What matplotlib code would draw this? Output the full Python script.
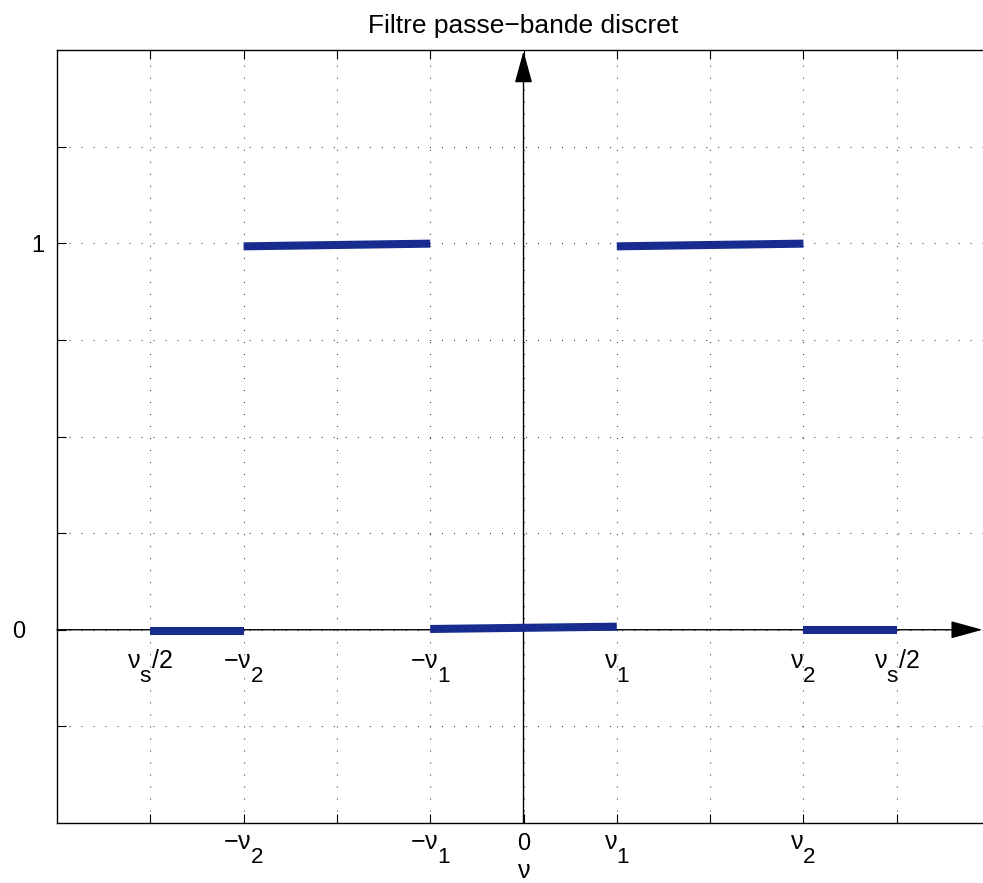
import matplotlib
matplotlib.use('Agg')
import matplotlib.pyplot as plt
import matplotlib.transforms as mtransforms
import matplotlib._mathtext as mathtext_internals
import numpy as np

plt.rcParams['font.family'] = ['Liberation Sans', 'DejaVu Sans']
plt.rcParams['mathtext.fontset'] = 'custom'
plt.rcParams['mathtext.rm'] = 'Liberation Sans'
plt.rcParams['mathtext.it'] = 'Liberation Sans'
plt.rcParams['mathtext.bf'] = 'Liberation Sans:bold'
plt.rcParams['lines.scale_dashes'] = False

# MATLAB-like subscripts: nearly full size and dropped well below the baseline
mathtext_internals.SHRINK_FACTOR = 0.9
mathtext_internals.FontConstantsBase.sub1 = 1.0
mathtext_internals.FontConstantsBase.subdrop = 0.9

# segments of the discrete band-pass response (x start, x end, y start, y end)
seg_x0 = [-0.4, -0.3, -0.1, 0.1, 0.3]
seg_x1 = [-0.3, -0.1, 0.1, 0.3, 0.4]
seg_y0 = [-0.004, 0.992, 0.002, 0.992, -0.001]
seg_y1 = [-0.004, 0.999, 0.008, 0.999, -0.001]

xticks = [-0.4, -0.3, -0.2, -0.1, 0.0, 0.1, 0.2, 0.3, 0.4]
xtick_labels = ['', r'$-\nu_2$', '', r'$-\nu_1$', '0', r'$\nu_1$', '', r'$\nu_2$', '']
yticks = [-0.25, 0.0, 0.25, 0.5, 0.75, 1.0, 1.25]
ytick_labels = ['', '0', '', '', '', '1', '']

# annotations under the frequency axis
note_x = [-0.4, -0.3, -0.1, 0.1, 0.3, 0.4]
note_txt = [r'$\nu_s/2$', r'$-\nu_2$', r'$-\nu_1$', r'$\nu_1$', r'$\nu_2$', r'$\nu_s/2$']

fig = plt.figure(figsize=(9.83, 8.83), dpi=100)
ax = fig.add_axes([57 / 983, 1 - 823 / 883, (990 - 57) / 983, (823 - 50) / 883])

blue = '#172c8e'
for x0, x1, y0, y1 in zip(seg_x0, seg_x1, seg_y0, seg_y1):
    ax.plot([x0, x1], [y0, y1], color=blue, lw=5.8, solid_capstyle='butt', zorder=4)

ax.set_xlim(-0.5, 0.5)
ax.set_ylim(-0.5, 1.5)

ax.set_xticks(xticks)
ax.set_xticklabels(xtick_labels)
ax.set_yticks(yticks)
ax.set_yticklabels(ytick_labels, fontsize=17)
for lbl in ax.get_xticklabels():
    lbl.set_fontsize(18 if '$' in lbl.get_text() else 17)
ax.tick_params(direction='in', length=6.5, width=0.8, top=True, right=False, pad=7)
ax.tick_params(axis='y', pad=9)

# "0" label sits further left in the original
for lbl in ax.get_yticklabels():
    if lbl.get_text() == '0':
        lbl.set_transform(lbl.get_transform() +
                          mtransforms.ScaledTranslation(-0.19, 0, fig.dpi_scale_trans))

ax.grid(True, color='#333333', lw=0.8, linestyle=(0, (0.7, 7.95)))
ax.set_axisbelow(True)

for s in ['left', 'top', 'bottom']:
    ax.spines[s].set_linewidth(1.0)
ax.spines['right'].set_visible(False)

# axes with arrows
arrow = dict(arrowstyle='-|>,head_length=2.0,head_width=0.55',
             mutation_scale=10, color='black', lw=1.0, shrinkA=0, shrinkB=0)
ax.annotate('', xy=(0.492, 0), xytext=(-0.5, 0), xycoords='data',
            arrowprops=arrow, zorder=3, annotation_clip=False)
ax.annotate('', xy=(0, 1.497), xytext=(0, -0.5), xycoords='data',
            arrowprops=arrow, zorder=3, annotation_clip=False)

for x, t in zip(note_x, note_txt):
    ax.text(x, -0.1, t, ha='center', va='baseline', fontsize=18)

ax.set_title('Filtre passe\u2212bande discret', fontsize=19, pad=12)
ax.set_xlabel(r'$\nu$', fontsize=18, labelpad=-4)

fig.savefig('out.png', dpi=100)
